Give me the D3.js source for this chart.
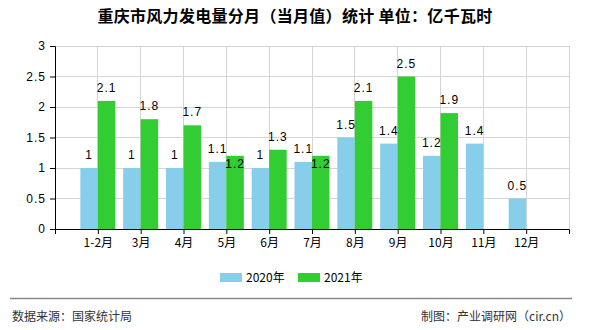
<!DOCTYPE html>
<html><head><meta charset="utf-8">
<script src="https://cdn.jsdelivr.net/npm/d3@7"></script>
<style>
html,body{margin:0;padding:0;background:#fff;}
svg{display:block;}
</style></head>
<body>
<svg id="c" width="590" height="330"></svg>
<script>
const categories = ["1-2月","3月","4月","5月","6月","7月","8月","9月","10月","11月","12月"];
const values2020 = [1,1,1,1.1,1,1.1,1.5,1.4,1.2,1.4,0.5];
const values2021 = [2.1,1.8,1.7,1.2,1.3,1.2,2.1,2.5,1.9,null,null];
const seriesNames = ["2020年","2021年"];
const seriesColors = ["#87CEEB","#32CD32"];
const yTicks = [0,0.5,1,1.5,2,2.5,3];
const titleText = "重庆市风力发电量分月（当月值）统计 单位：亿千瓦时";
const sourceText = "数据来源：国家统计局";
const creditText = "制图：产业调研网（cir.cn）";

const svg = d3.select("#c");
const L=55, R=569, T=46, B=229;
const cjk = "'Noto Sans CJK SC','Liberation Sans',sans-serif";
const num = "'Liberation Sans','DejaVu Sans',sans-serif";

const x = d3.scalePoint().domain(categories).range([L,R]).padding(1);
const y = d3.scaleLinear().domain([0,3]).range([B,T]);
const bw = 17.5;

// title
svg.append("text").attr("x",295).attr("y",22).attr("text-anchor","middle")
  .attr("font-family",cjk).attr("font-size",16).attr("font-weight","bold").attr("fill","#000")
  .attr("letter-spacing","0.3").text(titleText);

// grid
const g = svg.append("g");
g.selectAll("line.h").data(yTicks.filter(d=>d>0)).join("line")
  .attr("x1",L).attr("x2",R).attr("y1",d=>y(d)).attr("y2",d=>y(d))
  .attr("stroke","#d4d4d4").attr("stroke-width",1).attr("shape-rendering","crispEdges");
g.selectAll("line.v").data(categories).join("line")
  .attr("x1",d=>x(d)).attr("x2",d=>x(d)).attr("y1",T).attr("y2",B)
  .attr("stroke","#d4d4d4").attr("stroke-width",1).attr("shape-rendering","crispEdges");
g.append("line").attr("x1",R).attr("x2",R).attr("y1",T).attr("y2",B)
  .attr("stroke","#d4d4d4").attr("shape-rendering","crispEdges");

// bars
const bars = svg.append("g");
bars.selectAll("rect.a").data(categories.map((c,i)=>({c,v:values2020[i]})).filter(d=>d.v!=null)).join("rect")
  .attr("x",d=>x(d.c)-bw).attr("width",bw).attr("y",d=>y(d.v)).attr("height",d=>y(0)-y(d.v))
  .attr("fill",seriesColors[0]);
bars.selectAll("rect.b").data(categories.map((c,i)=>({c,v:values2021[i]})).filter(d=>d.v!=null)).join("rect")
  .attr("x",d=>x(d.c)).attr("width",bw).attr("y",d=>y(d.v)).attr("height",d=>y(0)-y(d.v))
  .attr("fill",seriesColors[1]);

// labels
const lab = svg.append("g").attr("font-family",num).attr("font-size",12).attr("fill","#000").attr("text-anchor","middle").attr("letter-spacing","1");
categories.forEach((c,i)=>{
  const a = values2020[i], b = values2021[i];
  if (a!=null) lab.append("text").attr("x",x(c)-bw/2).attr("y",y(a)-9).text(a);
  if (b!=null) {
    let yy = y(b)-9;
    if (a!=null && Math.abs(y(a)-y(b))<12) yy = y(b)+12.5;
    lab.append("text").attr("x",x(c)+bw/2).attr("y",yy).text(b);
  }
});

// y axis
const ya = svg.append("g").attr("transform",`translate(${L},0)`)
  .call(d3.axisLeft(y).tickValues(yTicks).tickSize(5).tickPadding(4).tickFormat(d3.format("~g")));
ya.select(".domain").attr("stroke","#000");
ya.selectAll(".tick line").attr("stroke","#000");
ya.selectAll("text").attr("font-family",num).attr("font-size",12).attr("fill","#000").attr("letter-spacing","1");

// x axis
const xa = svg.append("g").attr("transform",`translate(0,${B})`)
  .call(d3.axisBottom(x).tickSize(5).tickPadding(4).tickSizeOuter(5));
xa.select(".domain").attr("stroke","#000");
xa.selectAll(".tick line").attr("stroke","#000");
xa.selectAll("text").attr("font-family",cjk).attr("font-size",12).attr("fill","#000");

// legend
const leg = svg.append("g");
const legX = [220,298];
seriesNames.forEach((n,i)=>{
  leg.append("rect").attr("x",legX[i]).attr("y",273).attr("width",22).attr("height",9).attr("fill",seriesColors[i]);
  leg.append("text").attr("x",legX[i]+26).attr("y",282).attr("font-family",cjk).attr("font-size",12).attr("fill","#000").text(n);
});

// footer
svg.append("line").attr("x1",10).attr("x2",572).attr("y1",298.5).attr("y2",298.5).attr("stroke","#888").attr("stroke-width",1.5);
svg.append("text").attr("x",12).attr("y",321).attr("font-family",cjk).attr("font-size",12).attr("fill","#333").text(sourceText);
svg.append("text").attr("x",571).attr("y",321).attr("text-anchor","end").attr("font-family",cjk).attr("font-size",12).attr("fill","#333").text(creditText);
</script>
</body></html>
